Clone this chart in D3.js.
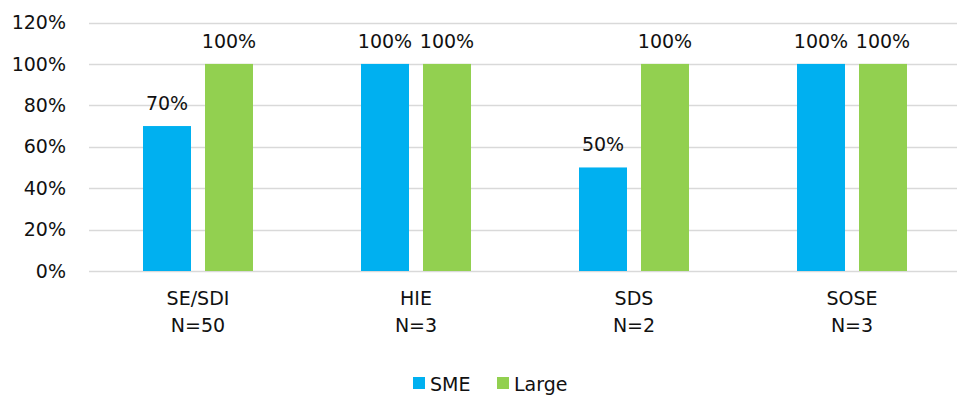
<!DOCTYPE html>
<html><head><meta charset="utf-8">
<script src="https://cdn.jsdelivr.net/npm/d3@7"></script>
<style>body{margin:0;background:#fff}text{font-family:"DejaVu Sans",sans-serif;fill:#111}</style>
</head><body><svg id="c" width="957" height="396"></svg>
<script>
const categories = ["SE/SDI\nN=50", "HIE\nN=3", "SDS\nN=2", "SOSE\nN=3"];
const seriesNames = ["SME", "Large"];
const sme = [0.70, 1.00, 0.50, 1.00];
const large = [1.00, 1.00, 1.00, 1.00];
const yTicks = [0, 0.2, 0.4, 0.6, 0.8, 1.0, 1.2];
const colors = ["#00B0F0", "#92D050"];

(function () {
const svg = d3.select("#c");
const pL = 89, pR = 961, pT = 22.5, pB = 271;
const x = d3.scaleBand().domain(d3.range(categories.length)).range([pL, pR]);
const y = d3.scaleLinear().domain([0, 1.2]).range([pB, pT]);
const fmt = d3.format(".0%");
const fs = 19;

svg.append("g").selectAll("line").data(yTicks).join("line")
  .attr("x1", pL).attr("x2", 957)
  .attr("y1", d => Math.round(y(d)) + 0.5).attr("y2", d => Math.round(y(d)) + 0.5)
  .attr("stroke", "#d9d9d9").attr("stroke-width", 1.5);

svg.append("g").selectAll("text").data(yTicks).join("text")
  .attr("x", 66).attr("y", d => y(d)).attr("dy", "0.35em")
  .attr("text-anchor", "end").attr("font-size", fs).text(fmt);

const barW = 48, gap = 14;
const series = [sme, large];
series.forEach((vals, s) => {
  const off = s === 0 ? -gap / 2 - barW : gap / 2;
  const g = svg.append("g");
  g.selectAll("rect").data(vals).join("rect")
    .attr("x", (d, i) => x(i) + x.bandwidth() / 2 + off)
    .attr("width", barW)
    .attr("y", d => y(d)).attr("height", d => y(0) - y(d))
    .attr("fill", colors[s]);
  g.selectAll("text").data(vals).join("text")
    .attr("x", (d, i) => x(i) + x.bandwidth() / 2 + off + barW / 2)
    .attr("y", d => y(d) - 16)
    .attr("text-anchor", "middle").attr("font-size", fs).text(fmt);
});

const cat = svg.append("g").selectAll("text").data(categories).join("text")
  .attr("x", (d, i) => x(i) + x.bandwidth() / 2)
  .attr("y", 305).attr("text-anchor", "middle").attr("font-size", fs);
cat.selectAll("tspan").data(d => d.split("\n")).join("tspan")
  .attr("x", function () { return this.parentNode.getAttribute("x"); })
  .attr("dy", (d, i) => i === 0 ? 0 : 27).text(d => d);

const leg = svg.append("g");
const legX = [413, 497];
seriesNames.forEach((n, i) => {
  leg.append("rect").attr("x", legX[i]).attr("y", 377).attr("width", 12).attr("height", 12).attr("fill", colors[i]);
  leg.append("text").attr("x", legX[i] + 17).attr("y", 391).attr("font-size", fs).text(n);
});
})();
</script></body></html>
